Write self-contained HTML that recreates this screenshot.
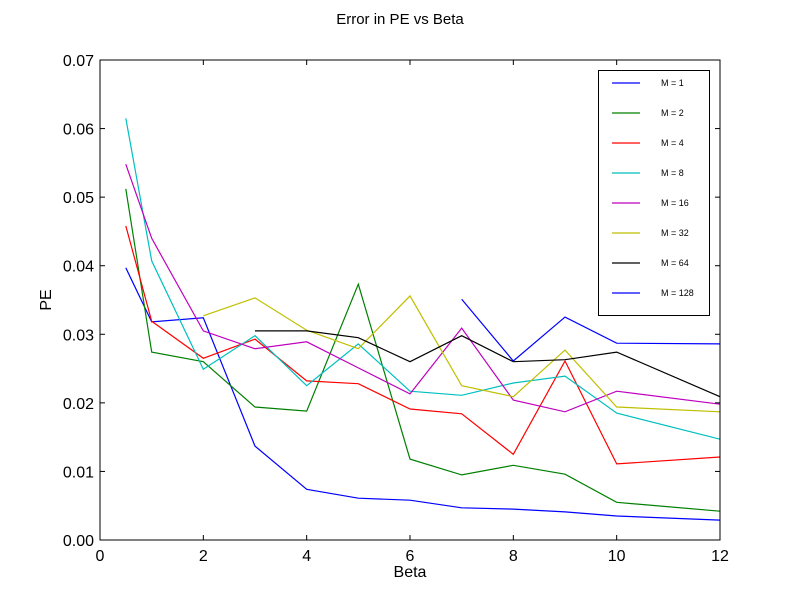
<!DOCTYPE html>
<html><head><meta charset="utf-8"><style>
body{margin:0;background:#fff;}
svg{display:block;font-family:"Liberation Sans","DejaVu Sans",sans-serif;}
</style></head><body>
<svg id="chart" width="800" height="600"></svg>
<script>
const betas=[0.5,1,2,3,4,5,6,7,8,9,10,12];
const seriesNames=["M = 1","M = 2","M = 4","M = 8","M = 16","M = 32","M = 64","M = 128"];
const seriesColors=["#0000ff","#008000","#ff0000","#00bfbf","#bf00bf","#bfbf00","#000000","#0000ff"];
const m1=[0.0397,0.0318,0.0324,0.0137,0.0074,0.0061,0.0058,0.0047,0.0045,0.0041,0.0035,0.0029];
const m2=[0.0512,0.0274,0.0260,0.0194,0.0188,0.0373,0.0118,0.0095,0.0109,0.0096,0.0055,0.0042];
const m4=[0.0458,0.0319,0.0265,0.0293,0.0232,0.0228,0.0191,0.0184,0.0125,0.0261,0.0111,0.0121];
const m8=[0.0615,0.0407,0.0249,0.0298,0.0225,0.0286,0.0217,0.0211,0.0229,0.0239,0.0185,0.0147];
const m16=[0.0548,0.0440,0.0305,0.0279,0.0289,0.0251,0.0213,0.0309,0.0204,0.0187,0.0217,0.0198];
const m32=[null,null,0.0327,0.0353,0.0306,0.0279,0.0356,0.0225,0.0209,0.0277,0.0194,0.0187];
const m64=[null,null,null,0.0305,0.0305,0.0295,0.0260,0.0298,0.0260,0.0263,0.0274,0.0209];
const m128=[null,null,null,null,null,null,null,0.0351,0.0261,0.0325,0.0287,0.0286];
const xTicks=[0,2,4,6,8,10,12];
const yTicks=[0,0.01,0.02,0.03,0.04,0.05,0.06,0.07];
const allSeries=[m1,m2,m4,m8,m16,m32,m64,m128];

const NS="http://www.w3.org/2000/svg";
const svg=document.getElementById('chart');
const L=100,R=720,T=60,B=540;
const xs=v=>L+(v-0)/(12-0)*(R-L);
const ys=v=>B-(v-0)/(0.07-0)*(B-T);
function mk(tag,attrs,parent){const e=document.createElementNS(NS,tag);for(const k in attrs)e.setAttribute(k,attrs[k]);(parent||svg).appendChild(e);return e;}

let t=mk('text',{x:400,y:24,'text-anchor':'middle','font-size':15});t.textContent="Error in PE vs Beta";



const plot=mk('g',{});


allSeries.forEach((s,i)=>{
  let d="";let started=false;
  s.forEach((v,j)=>{if(v===null)return;d+=(started?"L":"M")+xs(betas[j]).toFixed(1)+","+ys(v).toFixed(1);started=true;});
  const p=mk('path',{d:d,fill:'none',stroke:seriesColors[i],'stroke-width':1.2},plot);
  
  
});

const frame=mk('rect',{x:L,y:T,width:R-L,height:B-T,fill:'none',stroke:'#000','stroke-width':1});



xTicks.forEach(v=>{
  const x=xs(v);
  mk('line',{x1:x,y1:B,x2:x,y2:B-5,stroke:'#000'});
  mk('line',{x1:x,y1:T,x2:x,y2:T+5,stroke:'#000'});
  const tx=mk('text',{x:x,y:B+21,'text-anchor':'middle','font-size':16});tx.textContent=v;
  
  
});
yTicks.forEach(v=>{
  const y=ys(v);
  mk('line',{x1:L,y1:y,x2:L+5,y2:y,stroke:'#000'});
  mk('line',{x1:R,y1:y,x2:R-5,y2:y,stroke:'#000'});
  const tx=mk('text',{x:L-6,y:y+6,'text-anchor':'end','font-size':16});tx.textContent=v.toFixed(2);
  
  
});
let xl=mk('text',{x:410,y:577,'text-anchor':'middle','font-size':16});xl.textContent="Beta";


let yl=mk('text',{x:51,y:300,'text-anchor':'middle','font-size':16,transform:'rotate(-90 51 300)'});yl.textContent="PE";



const lg=mk('g',{});


mk('rect',{x:598.5,y:70.5,width:111,height:245,fill:'#fff',stroke:'#000'},lg);
seriesNames.forEach((n,i)=>{
  const y=83+30*i;
  const e=mk('g',{},lg);
  
  
  mk('line',{x1:612,y1:y,x2:640,y2:y,stroke:seriesColors[i],'stroke-width':1.2},e);
  const tx=mk('text',{x:661,y:y+3,'font-size':9},e);tx.textContent=n;
});
</script>
</body></html>
